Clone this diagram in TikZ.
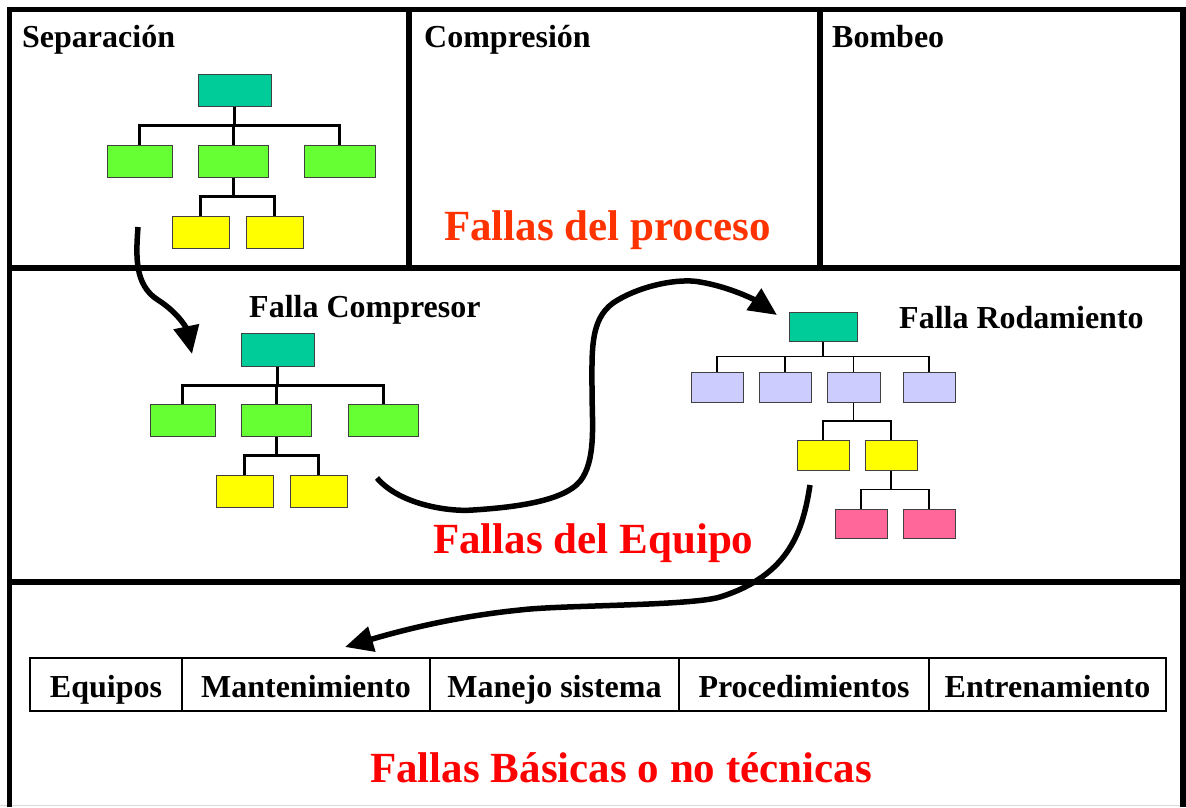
\documentclass[tikz,border=0pt]{standalone}
\usepackage{fontspec}
\setmainfont{Liberation Serif}
\usetikzlibrary{arrows.meta,calc,positioning}
\definecolor{rootc}{HTML}{00CC99}
\definecolor{grnc}{HTML}{66FF33}
\definecolor{ylwc}{HTML}{FFFF00}
\definecolor{lavc}{HTML}{CCCCFF}
\definecolor{pnkc}{HTML}{FF6699}
\definecolor{procc}{HTML}{FF3300}
\tikzset{
    x=1pt,y=-1pt,
    box/.style ={rectangle, draw=black!75, line width=1pt, inner sep=0pt},
    root/.style ={box, fill=rootc, minimum width=73pt, minimum height=32pt},
    lvl1/.style ={box, fill=grnc, minimum height=32pt},
    lvl2/.style ={box, fill=ylwc, minimum width=57pt, minimum height=32pt},
    tree/.style={to path={let \p1=(\tikztostart.south), \p2=(\tikztotarget.north) in
        (\p1) -- (\x1,{(\y1+\y2)/2}) -| (\p2)}},
    link/.style = {line width=3pt},
    fine/.style = {line width=1.3pt},
    flow/.style = {-{Triangle[length=28pt,width=25pt]}, line width=5.5pt},
    frame/.style = {line width=5.5pt, line join=miter},
    lbl/.style = {font=\fontsize{32}{38}\selectfont\bfseries, anchor=base west, inner sep=0pt},
    big/.style = {font=\fontsize{43}{50}\selectfont\bfseries, anchor=base west, inner sep=0pt},
    cell/.style = {draw, line width=1.3pt, minimum height=53pt, inner sep=0pt, outer sep=0pt,
        text height=25pt, text depth=0pt, font=\fontsize{32}{38}\selectfont\bfseries}
}

\begin{document}
\begin{tikzpicture}
    \useasboundingbox (0,0) rectangle (1186,807);
    % frame
    \draw[black!15, line width=1.5pt] (0,805.5) -- (1186,805.5);
    \draw[frame] (9.5,807) -- (9.5,9.5) -- (1183,9.5) -- (1183,807);
    \draw[frame] (9.5,268) -- (1183,268);
    \draw[frame] (9.5,582) -- (1183,582);
    \draw[frame] (409,9.5) -- (409,268);
    \draw[frame] (820,9.5) -- (820,268);

    \node[lbl] (sep) at (22,47) {Separación};
    \node[lbl] (com) at (424,47) {Compresión};
    \node[lbl] (bom) at (832,47) {Bombeo};
    \node[big, procc] (proc) at (444,240) {Fallas del proceso};

    % separacion
    \node[root] (s0) at (234.5,90) {};
    \node[lvl1, minimum width=65pt] (s1) at (139.5,161) {};
    \node[lvl1, minimum width=70pt] (s2) at (233,161) {};
    \node[lvl1, minimum width=71pt] (s3) at (339.5,161) {};
    \node[lvl2] (s4) at (200.5,232) {};
    \node[lvl2] (s5) at (274.5,232) {};
    \path[link] (s0) edge[tree] (s1) edge[tree] (s2) edge[tree] (s3);
    \path[link] (s2) edge[tree] (s4) edge[tree] (s5);

    % compresor
    \node[lbl] (fc) at (249,317) {Falla Compresor};
    \node[root, minimum height=33pt] (c0) at (277.5,349.5) {};
    \node[lvl1, minimum width=65pt] (c1) at (182.5,420) {};
    \node[lvl1, minimum width=70pt] (c2) at (276,420) {};
    \node[lvl1, minimum width=70pt] (c3) at (383,420) {};
    \node[lvl2] (c4) at (244.5,491) {};
    \node[lvl2] (c5) at (318.5,491) {};
    \path[link] (c0) edge[tree] (c1) edge[tree] (c2) edge[tree] (c3);
    \path[link] (c2) edge[tree] (c4) edge[tree] (c5);

    % rodamiento
    \node[lbl] (fr) at (899,328) {Falla Rodamiento};
    \node[root, minimum width=68pt, minimum height=29pt] (r0) at (823,326.5) {};
    \node[box, fill=lavc, minimum width=52pt, minimum height=30pt] (r1) at (717,387) {};
    \node[box, fill=lavc, minimum width=52pt, minimum height=30pt] (r2) at (785,387) {};
    \node[box, fill=lavc, minimum width=53pt, minimum height=30pt] (r3) at (853.5,387) {};
    \node[box, fill=lavc, minimum width=52pt, minimum height=30pt] (r4) at (929,387) {};
    \node[box, fill=ylwc, minimum width=52pt, minimum height=30pt] (r5) at (823,455) {};
    \node[box, fill=ylwc, minimum width=52pt, minimum height=30pt] (r6) at (891,455) {};
    \node[box, fill=pnkc, minimum width=52pt, minimum height=29pt] (r7) at (861,523.5) {};
    \node[box, fill=pnkc, minimum width=52pt, minimum height=29pt] (r8) at (929,523.5) {};
    \path[fine] (r0) edge[tree] (r1) edge[tree] (r2) edge[tree] (r3) edge[tree] (r4);
    \path[fine] (r3) edge[tree] (r5) edge[tree] (r6);
    \path[fine] (r6) edge[tree] (r7) edge[tree] (r8);

    \node[big, red] (equ) at (433,553) {Fallas del Equipo};

    % basicas
    \node[cell, minimum width=152pt] (eq) at (106,684.5) {Equipos};
    \node[cell, minimum width=248pt, right=0pt of eq] (mt) {Mantenimiento};
    \node[cell, minimum width=249pt, right=0pt of mt] (ms) {Manejo sistema};
    \node[cell, minimum width=250pt, right=0pt of ms] (pr) {Procedimientos};
    \node[cell, minimum width=237pt, right=0pt of pr] (en) {Entrenamiento};
    \node[big, red] (bas) at (370,782) {Fallas Básicas o no técnicas};

    % arrows
    \coordinate (a1) at (138,227);
    \coordinate (a1e) at (192,354);
    \coordinate (a2) at (377,478);
    \coordinate (a2e) at (777,315);
    \coordinate (a3) at (810,485);
    \coordinate (a3e) at (345,647);
    \draw[flow] (a1) .. controls (136,255) and (134,285) .. (158,300)
        .. controls (180,314) and (187,330) .. (a1e);
    \draw[flow] (a2) .. controls (400,505) and (450,512) .. (473,510)
        .. controls (520,507) and (570,500) .. (583,477)
        .. controls (596,455) and (592,420) .. (592,390)
        .. controls (592,350) and (590,320) .. (613,303)
        .. controls (640,285) and (680,278) .. (700,282)
        .. controls (730,287) and (755,300) .. (a2e);
    \draw[flow] (a3) .. controls (803,530) and (790,575) .. (720,597)
        .. controls (690,606) and (560,605) .. (520,610)
        .. controls (470,615) and (420,625) .. (a3e);
\end{tikzpicture}
\end{document}
